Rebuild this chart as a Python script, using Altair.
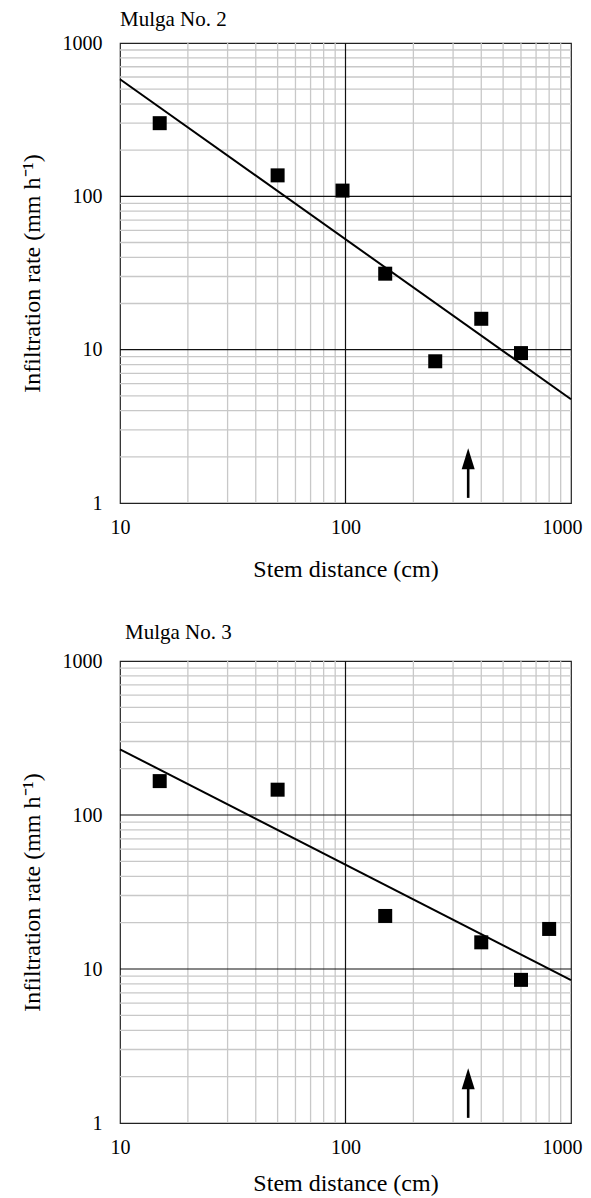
import altair as alt
import pandas as pd

# ---- data ----
titles = ["Mulga No. 2", "Mulga No. 3"]

dist2 = [15, 50, 97, 150, 250, 400, 600]
rate2 = [300, 137, 109, 31.3, 8.4, 15.9, 9.5]
fit2_x = [10, 1000]
fit2_y = [580, 4.75]

dist3 = [15, 50, 150, 400, 600, 800]
rate3 = [166, 146, 22.1, 14.9, 8.5, 18.2]
fit3_x = [10, 1000]
fit3_y = [267, 8.46]

arrow_x = [350]
arrow_base = [1.08]
arrow_head = [1.94]

x_ticks = [10, 100, 1000]
y_ticks = [1, 10, 100, 1000]
x_minor = [20, 30, 40, 50, 60, 70, 80, 90, 200, 300, 400, 500, 600, 700, 800, 900]
y_minor = [2, 3, 4, 5, 6, 7, 8, 9, 20, 30, 40, 50, 60, 70, 80, 90,
           200, 300, 400, 500, 600, 700, 800, 900]
x_major = [100]
y_major = [10, 100]

FONT = "Liberation Serif"
XT = "Stem distance (cm)"
YT = "Infiltration rate (mm h\u207b\u00b9)"

xscale = alt.Scale(type="log", domain=[10, 1000], nice=False)
yscale = alt.Scale(type="log", domain=[1, 1000], nice=False)


def make_xaxis(tpad):
    return alt.Axis(values=x_ticks, format="d", grid=False, ticks=False, domain=False,
                    labelFont=FONT, labelFontSize=20, labelColor="black", labelPadding=14,
                    labelFlush=False, labelOverlap=False,
                    labelAlign=alt.condition("datum.value >= 1000", alt.value("right"), alt.value("center")),
                    labelOffset=alt.condition("datum.value >= 1000", alt.value(11), alt.value(0)),
                    titleFont=FONT, titleFontSize=24, titleFontWeight="normal",
                    titleColor="black", titlePadding=tpad)


yaxis = alt.Axis(values=y_ticks, format="d", grid=False, ticks=False, domain=False,
                 labelFont=FONT, labelFontSize=20, labelColor="black", labelPadding=18,
                 labelFlush=False, labelOverlap=False,
                 titleFont=FONT, titleFontSize=24, titleFontWeight="normal",
                 titleColor="black", titlePadding=18)


def panel(title, xs, ys, fx, fy, height, toff, tdx, xtpad):
    xaxis = make_xaxis(xtpad)

    def X(f):
        return alt.X(f, type="quantitative", scale=xscale, axis=xaxis, title=XT)

    def Y(f):
        return alt.Y(f, type="quantitative", scale=yscale, axis=yaxis, title=YT)

    pts = pd.DataFrame({"d": xs, "r": ys})
    fit = pd.DataFrame({"d": fx, "r": fy})
    arr = pd.DataFrame({"d": arrow_x, "b": arrow_base, "h": arrow_head})
    xmin = alt.Chart(pd.DataFrame({"d": x_minor})).mark_rule(
        color="#c8c8c8", strokeWidth=1.3).encode(x=X("d"))
    ymin = alt.Chart(pd.DataFrame({"r": y_minor})).mark_rule(
        color="#c8c8c8", strokeWidth=1.3).encode(y=Y("r"))
    xmaj = alt.Chart(pd.DataFrame({"d": x_major})).mark_rule(
        color="#111", strokeWidth=1.2).encode(x=X("d"))
    ymaj = alt.Chart(pd.DataFrame({"r": y_major})).mark_rule(
        color="#111", strokeWidth=1.2).encode(y=Y("r"))
    line = alt.Chart(fit).mark_line(color="black", strokeWidth=2).encode(x=X("d"), y=Y("r"))
    sq = alt.Chart(pts).mark_square(size=196, color="black", opacity=1, filled=True).encode(
        x=X("d"), y=Y("r"))
    shaft = alt.Chart(arr).mark_rule(color="black", strokeWidth=2.6).encode(
        x=X("d"), y=Y("b"), y2="h")
    head = alt.Chart(arr).mark_point(
        shape="M0,-1L0.62,1L-0.62,1Z", size=441, filled=True, color="black",
        opacity=1, strokeWidth=0).encode(x=X("d"), y=Y("h"))
    return alt.layer(xmin, ymin, xmaj, ymaj, line, sq, shaft, head).properties(
        width=451, height=height,
        title=alt.TitleParams(title, anchor="start", frame="group", font=FONT, fontSize=21,
                              fontWeight="normal", color="black", offset=toff, dx=tdx),
    )


top = panel(titles[0], dist2, rate2, fit2_x, fit2_y, 460, 3, 0, 20)
bot = panel(titles[1], dist3, rate3, fit3_x, fit3_y, 462, 8.5, 5, 14)

chart = alt.vconcat(top, bot, spacing=38).properties(
    padding={"left": 11, "top": 0, "right": 0, "bottom": 0}
).configure_view(stroke="#222", strokeWidth=1.2)

chart.save("out.html", embed_options={"renderer": "svg", "actions": False})
